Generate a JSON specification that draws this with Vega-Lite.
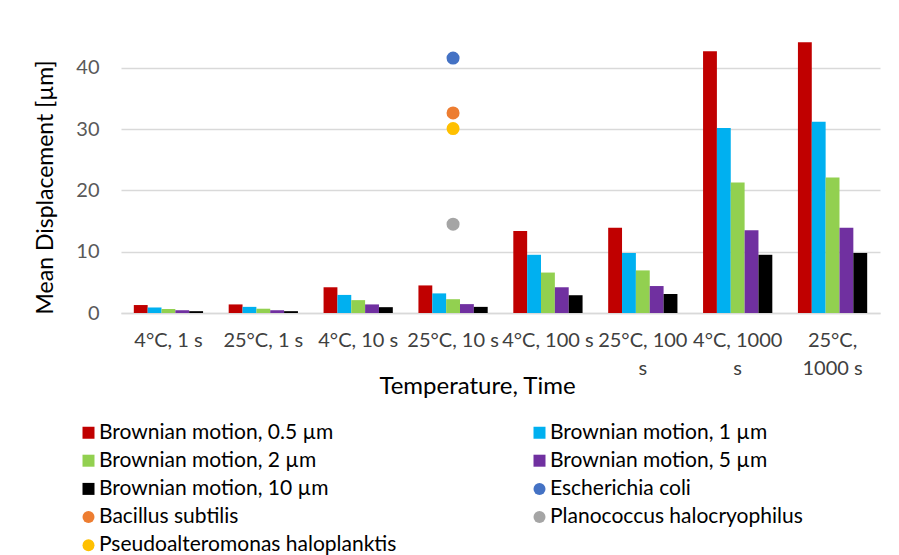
{
  "$schema": "https://vega.github.io/schema/vega-lite/v6.json",
  "width": 759,
  "height": 288,
  "autosize": {"type": "none"},
  "padding": {"left": 121, "top": 25, "right": 19, "bottom": 242},
  "background": "white",
  "config": {
    "font": "Lato",
    "view": {"stroke": null}
  },
  "data": {
    "values": [
      {"c": "4°C, 1 s", "s": "Brownian motion, 0.5 µm", "v": 1.3},
      {"c": "4°C, 1 s", "s": "Brownian motion, 1 µm", "v": 0.9},
      {"c": "4°C, 1 s", "s": "Brownian motion, 2 µm", "v": 0.65},
      {"c": "4°C, 1 s", "s": "Brownian motion, 5 µm", "v": 0.45},
      {"c": "4°C, 1 s", "s": "Brownian motion, 10 µm", "v": 0.3},
      {"c": "25°C, 1 s", "s": "Brownian motion, 0.5 µm", "v": 1.4},
      {"c": "25°C, 1 s", "s": "Brownian motion, 1 µm", "v": 1.0},
      {"c": "25°C, 1 s", "s": "Brownian motion, 2 µm", "v": 0.7},
      {"c": "25°C, 1 s", "s": "Brownian motion, 5 µm", "v": 0.45},
      {"c": "25°C, 1 s", "s": "Brownian motion, 10 µm", "v": 0.3},
      {"c": "4°C, 10 s", "s": "Brownian motion, 0.5 µm", "v": 4.2},
      {"c": "4°C, 10 s", "s": "Brownian motion, 1 µm", "v": 2.95},
      {"c": "4°C, 10 s", "s": "Brownian motion, 2 µm", "v": 2.1},
      {"c": "4°C, 10 s", "s": "Brownian motion, 5 µm", "v": 1.4},
      {"c": "4°C, 10 s", "s": "Brownian motion, 10 µm", "v": 0.95},
      {"c": "25°C, 10 s", "s": "Brownian motion, 0.5 µm", "v": 4.5},
      {"c": "25°C, 10 s", "s": "Brownian motion, 1 µm", "v": 3.2},
      {"c": "25°C, 10 s", "s": "Brownian motion, 2 µm", "v": 2.25},
      {"c": "25°C, 10 s", "s": "Brownian motion, 5 µm", "v": 1.45},
      {"c": "25°C, 10 s", "s": "Brownian motion, 10 µm", "v": 1.0},
      {"c": "4°C, 100 s", "s": "Brownian motion, 0.5 µm", "v": 13.4},
      {"c": "4°C, 100 s", "s": "Brownian motion, 1 µm", "v": 9.5},
      {"c": "4°C, 100 s", "s": "Brownian motion, 2 µm", "v": 6.6},
      {"c": "4°C, 100 s", "s": "Brownian motion, 5 µm", "v": 4.2},
      {"c": "4°C, 100 s", "s": "Brownian motion, 10 µm", "v": 2.9},
      {"c": "25°C, 100 s", "s": "Brownian motion, 0.5 µm", "v": 13.9},
      {"c": "25°C, 100 s", "s": "Brownian motion, 1 µm", "v": 9.8},
      {"c": "25°C, 100 s", "s": "Brownian motion, 2 µm", "v": 6.95},
      {"c": "25°C, 100 s", "s": "Brownian motion, 5 µm", "v": 4.4},
      {"c": "25°C, 100 s", "s": "Brownian motion, 10 µm", "v": 3.1},
      {"c": "4°C, 1000 s", "s": "Brownian motion, 0.5 µm", "v": 42.7},
      {"c": "4°C, 1000 s", "s": "Brownian motion, 1 µm", "v": 30.2},
      {"c": "4°C, 1000 s", "s": "Brownian motion, 2 µm", "v": 21.3},
      {"c": "4°C, 1000 s", "s": "Brownian motion, 5 µm", "v": 13.5},
      {"c": "4°C, 1000 s", "s": "Brownian motion, 10 µm", "v": 9.5},
      {"c": "25°C, 1000 s", "s": "Brownian motion, 0.5 µm", "v": 44.2},
      {"c": "25°C, 1000 s", "s": "Brownian motion, 1 µm", "v": 31.2},
      {"c": "25°C, 1000 s", "s": "Brownian motion, 2 µm", "v": 22.1},
      {"c": "25°C, 1000 s", "s": "Brownian motion, 5 µm", "v": 13.9},
      {"c": "25°C, 1000 s", "s": "Brownian motion, 10 µm", "v": 9.8},
      {"c": "25°C, 10 s", "s": "Escherichia coli", "v": 41.6},
      {"c": "25°C, 10 s", "s": "Bacillus subtilis", "v": 32.65},
      {"c": "25°C, 10 s", "s": "Planococcus halocryophilus", "v": 14.5},
      {"c": "25°C, 10 s", "s": "Pseudoalteromonas haloplanktis", "v": 30.1}
    ]
  },
  "encoding": {
    "x": {
      "field": "c",
      "type": "nominal",
      "sort": ["4°C, 1 s", "25°C, 1 s", "4°C, 10 s", "25°C, 10 s", "4°C, 100 s", "25°C, 100 s", "4°C, 1000 s", "25°C, 1000 s"],
      "scale": {"paddingInner": 0.27, "paddingOuter": 0.135},
      "axis": {
        "title": "Temperature, Time",
        "titleFontSize": 24,
        "titleFontWeight": "normal",
        "titleColor": "#000000",
        "titlePadding": -4,
        "titleX": 356,
        "labelAngle": 0,
        "labelFontSize": 20,
        "labelColor": "#404040",
        "labelPadding": 17,
        "labelLineHeight": 28,
        "labelOverlap": false,
        "labelExpr": "datum.value == '25°C, 100 s' ? ['25°C, 100', 's'] : datum.value == '4°C, 1000 s' ? ['4°C, 1000', 's'] : datum.value == '25°C, 1000 s' ? ['25°C,', '1000 s'] : datum.value",
        "ticks": false,
        "domainColor": "#d9d9d9",
        "domainWidth": 1.5,
        "labelLimit": 200
      }
    },
    "y": {
      "field": "v",
      "type": "quantitative",
      "scale": {"domain": [0, 47], "nice": false},
      "axis": {
        "title": "Mean Displacement [µm]",
        "titleFontSize": 23,
        "titleFontWeight": "normal",
        "titleColor": "#000000",
        "titlePadding": 18,
        "titleY": 162,
        "values": [0, 10, 20, 30, 40],
        "labelFontSize": 20,
        "labelColor": "#595959",
        "labelPadding": 22,
        "ticks": false,
        "domain": false,
        "gridColor": "#d9d9d9",
        "gridWidth": 1.5
      }
    },
    "color": {
      "field": "s",
      "type": "nominal",
      "scale": {
        "domain": ["Brownian motion, 0.5 µm", "Brownian motion, 2 µm", "Brownian motion, 10 µm", "Bacillus subtilis", "Pseudoalteromonas haloplanktis", "Brownian motion, 1 µm", "Brownian motion, 5 µm", "Escherichia coli", "Planococcus halocryophilus"],
        "range": ["#C00000", "#92D050", "#000000", "#ED7D31", "#FFC000", "#00B0F0", "#7030A0", "#4472C4", "#A5A5A5"]
      },
      "legend": {
        "title": null,
        "orient": "none",
        "legendX": -43,
        "legendY": 397,
        "columns": 2,
        "columnPadding": 132,
        "rowPadding": 6.2,
        "symbolType": "square",
        "symbolSize": 144,
        "symbolStrokeWidth": 0,
        "labelFontSize": 21,
        "labelColor": "#000000",
        "labelOffset": 0,
        "labelLimit": 400,
        "encode": {
          "symbols": {
            "update": {
              "shape": {"signal": "indexof(['Escherichia coli','Bacillus subtilis','Planococcus halocryophilus','Pseudoalteromonas haloplanktis'], datum.value) >= 0 ? 'circle' : 'square'"}
            }
          }
        }
      }
    }
  },
  "layer": [
    {
      "transform": [{"filter": "indexof(datum.s, 'Brownian') == 0"}],
      "mark": {"type": "bar"},
      "encoding": {
        "xOffset": {
          "field": "s",
          "type": "nominal",
          "scale": {"domain": ["Brownian motion, 0.5 µm", "Brownian motion, 1 µm", "Brownian motion, 2 µm", "Brownian motion, 5 µm", "Brownian motion, 10 µm"], "paddingInner": 0, "paddingOuter": 0}
        }
      }
    },
    {
      "transform": [{"filter": "indexof(datum.s, 'Brownian') != 0"}],
      "mark": {"type": "point", "filled": true, "opacity": 1, "size": 170, "shape": "circle"}
    }
  ]
}
